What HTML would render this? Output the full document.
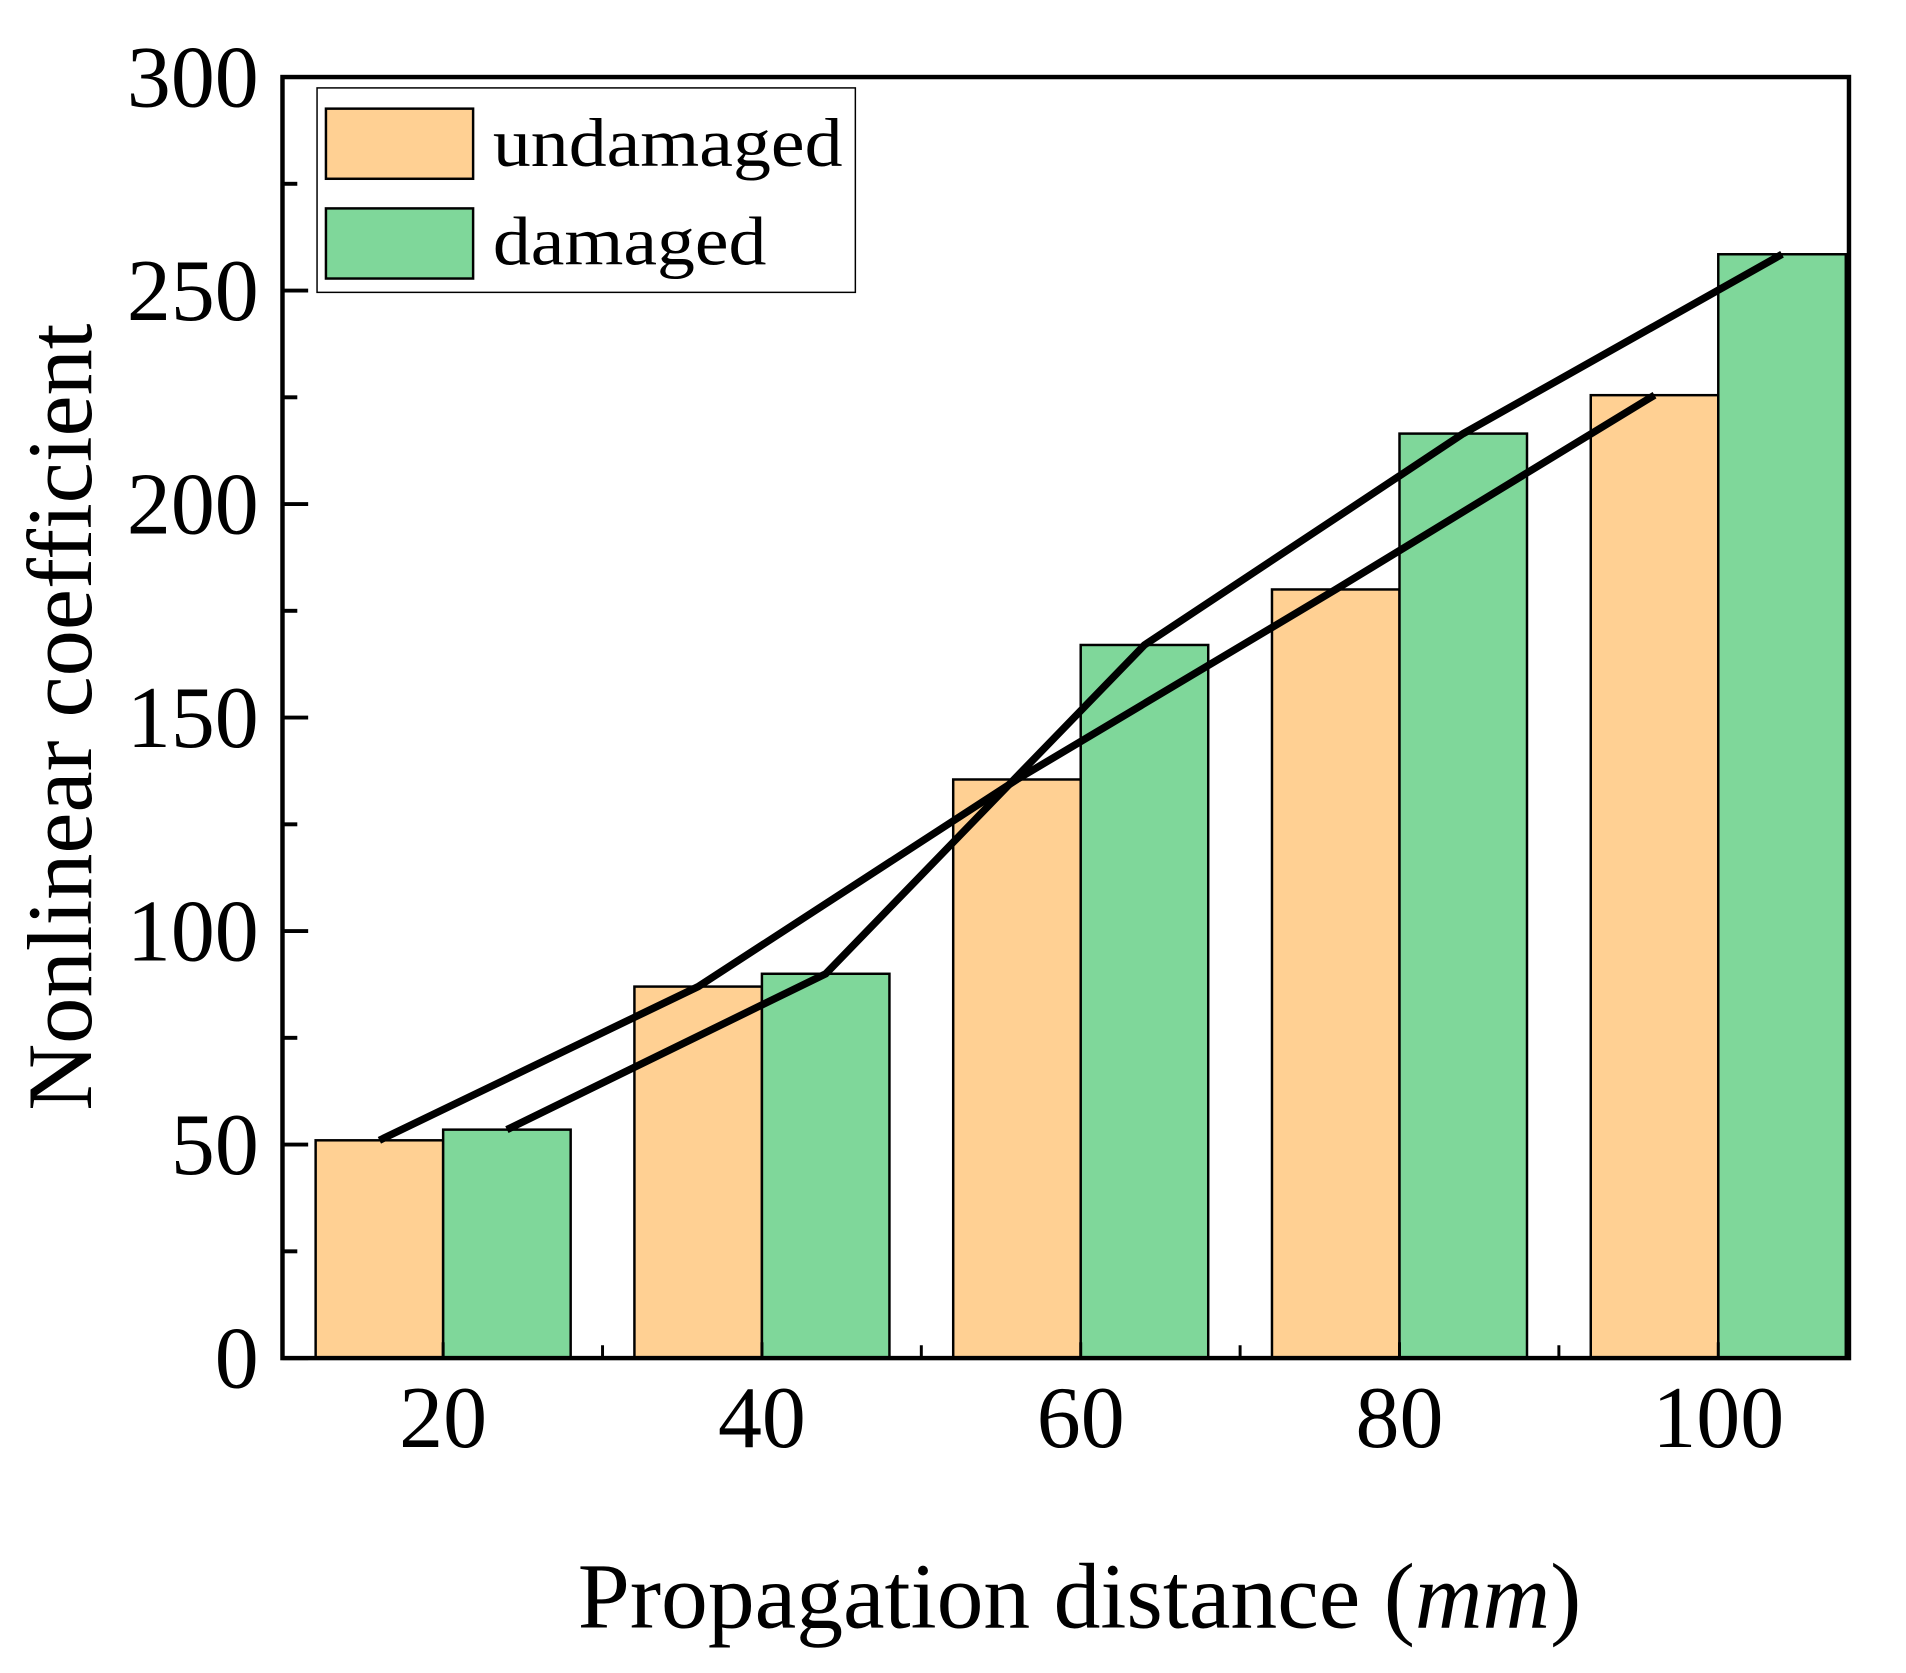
<!DOCTYPE html>
<html><head><meta charset="utf-8"><style>
html,body{margin:0;padding:0;background:#fff;}
svg{display:block;font-family:"Liberation Serif",serif;}
</style></head><body>
<svg id="chart" width="1906" height="1673" viewBox="0 0 1906 1673">
<g transform="scale(0.9877)">
<g id="bars"></g><g id="lines"></g><g id="axes"></g>
<g>
<rect x="321" y="89" width="545" height="207" fill="#fff" stroke="#000" stroke-width="1.5"/>
<rect x="330" y="110" width="149" height="71" fill="#FFD093" stroke="#000" stroke-width="2.5"/>
<text x="499" y="168" font-size="70" textLength="354" lengthAdjust="spacingAndGlyphs">undamaged</text>
<rect x="330" y="211" width="149" height="71" fill="#7FD79A" stroke="#000" stroke-width="2.5"/>
<text x="499" y="268" font-size="70" textLength="277" lengthAdjust="spacingAndGlyphs">damaged</text>
</g>
<text x="0" y="0" font-size="93" text-anchor="middle" textLength="797" lengthAdjust="spacingAndGlyphs" transform="translate(92,726) rotate(-90)">Nonlinear coefficient</text>
<text x="1093" y="1648" font-size="94" text-anchor="middle" textLength="1016" lengthAdjust="spacingAndGlyphs">Propagation distance (<tspan font-style="italic">mm</tspan>)</text>
</g>
</svg>
<script>
const categories = [20, 40, 60, 80, 100];
const undamaged = [51, 87, 135.5, 180, 225.5];
const damaged = [53.5, 90, 167, 216.5, 258.5];
const yTicks = [0, 50, 100, 150, 200, 250, 300];
const yMinor = [25, 75, 125, 175, 225, 275];
const xMinor = [30, 50, 70, 90];

const L = 286, R = 1872, T = 78, B = 1375;
const xMin = 9.92, xMax = 108.2, yMax = 300;
const xs = v => L + (v - xMin) / (xMax - xMin) * (R - L);
const ys = v => B - v / yMax * (B - T);
const bw = 8;
const NS = 'http://www.w3.org/2000/svg';
function mk(tag, attrs, parent){ const e=document.createElementNS(NS,tag); for(const k in attrs) e.setAttribute(k,attrs[k]); parent.appendChild(e); return e; }
const gb = document.getElementById('bars'), gl = document.getElementById('lines'), ga = document.getElementById('axes');

categories.forEach((c,i)=>{
  const u = mk('rect',{x:xs(c-bw),y:ys(undamaged[i]),width:xs(c)-xs(c-bw),height:B-ys(undamaged[i]),fill:'#FFD093',stroke:'#000','stroke-width':2.5},gb);
  
  
  const d = mk('rect',{x:xs(c),y:ys(damaged[i]),width:xs(c+bw)-xs(c),height:B-ys(damaged[i]),fill:'#7FD79A',stroke:'#000','stroke-width':2.5},gb);
  
  
});
const p1 = categories.map((c,i)=>xs(c-bw/2)+','+ys(undamaged[i])).join(' ');
const p2 = categories.map((c,i)=>xs(c+bw/2)+','+ys(damaged[i])).join(' ');
const l1 = mk('polyline',{points:p1,fill:'none',stroke:'#000','stroke-width':7.5},gl);


const l2 = mk('polyline',{points:p2,fill:'none',stroke:'#000','stroke-width':7.5},gl);



const frame = mk('rect',{x:L,y:T,width:R-L,height:B-T,fill:'none',stroke:'#000','stroke-width':4.5},ga);


yTicks.forEach(v=>{
  mk('line',{x1:L,x2:L+26,y1:ys(v),y2:ys(v),stroke:'#000','stroke-width':4},ga);
  const t = mk('text',{x:262,y:ys(v)+30,'font-size':89,'text-anchor':'end'},ga);
  t.textContent = v;
  
  
});
yMinor.forEach(v=>{ mk('line',{x1:L,x2:L+15,y1:ys(v),y2:ys(v),stroke:'#000','stroke-width':4},ga); });
categories.forEach(c=>{
  mk('line',{x1:xs(c),x2:xs(c),y1:B,y2:B-16,stroke:'#000','stroke-width':3},ga);
  const t = mk('text',{x:xs(c),y:1465,'font-size':89,'text-anchor':'middle'},ga);
  t.textContent = c;
  
  
});
xMinor.forEach(v=>{ mk('line',{x1:xs(v),x2:xs(v),y1:B,y2:B-13,stroke:'#000','stroke-width':3},ga); });
</script>
</body></html>
